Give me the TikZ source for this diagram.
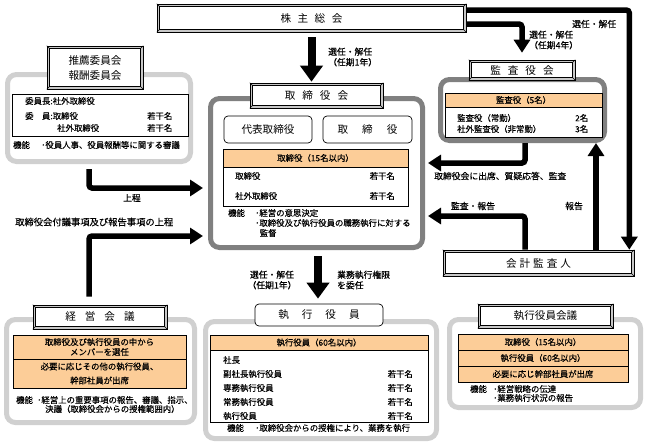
\documentclass[tikz,border=0pt]{standalone}
\usepackage{fontspec}
\setmainfont{Noto Sans CJK JP}[FakeBold=0.35]
\newfontfamily\jpreg{Noto Sans CJK JP}
\usetikzlibrary{arrows.meta,fit,calc}
\definecolor{orng}{RGB}{252,205,152}
\definecolor{dgray}{RGB}{128,128,128}
\definecolor{lgray}{RGB}{208,208,208}
\definecolor{bevgray}{RGB}{200,200,200}
\tikzset{
  txt/.style={font=\fontsize{8.4}{10}\selectfont, inner sep=0pt},
  lbl/.style={font=\fontsize{8.8}{10.5}\selectfont, inner sep=0pt},
  ttl/.style={font=\jpreg\fontsize{10.6}{15}\selectfont, inner sep=0pt, align=center},
  gbox/.style={draw=#1, line width=5pt, rounded corners=9pt, fill=white, inner sep=0pt},
  bevouter/.style={draw, line width=0.6pt, fill=bevgray, inner sep=0pt},
  bevline/.style={draw, line width=0.6pt, fill=white},
  bevthin/.style={line width=0.4pt},
  tbl/.style={draw, line width=0.6pt, fill=white, inner sep=0pt},
  hdr/.style={draw, line width=0.6pt, fill=orng, inner sep=0pt},
  rbox/.style={draw, line width=0.7pt, rounded corners=4pt, fill=white, inner sep=0pt},
  bigarr/.style={line width=8pt, -{Triangle[width=22pt,length=16pt]}},
  medarr/.style={line width=5.5pt, rounded corners=3pt, -{Triangle[width=16pt,length=13pt]}},
}
\newcommand{\bevbox}[4]{%
  \node[bevouter, fit={#2 #3}] (#1) {};
  \draw[bevline] ([shift={(2.6pt,-2.6pt)}]#1.north west) rectangle ([shift={(-2.6pt,2.6pt)}]#1.south east);
  \draw[bevthin] (#1.north west) -- ++(2.6pt,-2.6pt) (#1.north east) -- ++(-2.6pt,-2.6pt)
     (#1.south west) -- ++(2.6pt,2.6pt) (#1.south east) -- ++(-2.6pt,2.6pt);
  \node[ttl] (#1-t) at (#1.center) {#4};}
\newcommand{\gbx}[6]{\node[gbox=#6, fit={(#2,#3)(#4,#5)}] (#1) {};}
\begin{document}
\begin{tikzpicture}[x=1pt,y=-1pt]
\useasboundingbox[fill=white] (0,0) rectangle (648,447);

% 株主総会
\bevbox{kabu}{(157,4)}{(466,32)}{株\hspace{6.5pt}主\hspace{6.5pt}総\hspace{6.5pt}会}

% 推薦委員会
\gbx{suig}{7.5}{74.5}{190.5}{161.5}{lgray}
\bevbox{suitt}{(47,46)}{(143,89)}{推薦委員会\\報酬委員会}
\node[tbl, fit={(12,94)(188,136)}] (suitbl) {};
\node[txt, anchor=west] (s1) at (25,101) {委員長:社外取締役};
\node[txt, anchor=west] (s2) at (25,116) {委　員:取締役};
\node[txt, anchor=west] (s3) at (147,116) {若干名};
\node[txt, anchor=west] (s4) at (57,128) {社外取締役};
\node[txt, anchor=west] (s5) at (147,128) {若干名};
\node[txt, anchor=west] (s6) at (13,145) {機能};
\node[txt, anchor=west] (s7) at (41,145) {･役員人事、役員報酬等に関する審議};

% 取締役会
\gbx{tori}{210.5}{98.5}{422.5}{247.5}{dgray}
\bevbox{toritt}{(250,83)}{(383,108)}{取\hspace{7pt}締\hspace{7pt}役\hspace{7pt}会}
\node[rbox, fit={(224,116)(312,143)}] (daihyo) {};
\node[ttl] (daihyo-t) at (daihyo.center) {代表取締役};
\node[rbox, fit={(323,116)(412,143)}] (torishi) {};
\node[ttl] (torishi-t) at (torishi.center) {取\hspace{14pt}締\hspace{14pt}役};
\node[tbl, fit={(223,149)(408,206)}] (toritbl) {};
\node[hdr, fit={(223,149)(408,167)}] (torihdr) {};
\node[txt] (t0) at (torihdr.center) {取締役（15名以内）};
\node[txt, anchor=west] (t1) at (235,176) {取締役};
\node[txt, anchor=east] (t2) at (395,176) {若干名};
\node[txt, anchor=west] (t3) at (235,196) {社外取締役};
\node[txt, anchor=east] (t4) at (395,196) {若干名};
\node[txt, anchor=west] (t5) at (228,213) {機能};
\node[txt, anchor=west] (t6) at (255,213) {･経営の意思決定};
\node[txt, anchor=west] (t7) at (255,223) {･取締役及び執行役員の職務執行に対する};
\node[txt, anchor=west] (t8) at (259.5,233) {監督};

% 監査役会
\gbx{kansa}{440.5}{79.5}{604.5}{140.5}{dgray}
\bevbox{kansatt}{(469,60)}{(575,80)}{監\hspace{7pt}査\hspace{7pt}役\hspace{7pt}会}
\node[tbl, fit={(445,93)(602,137)}] (kansatbl) {};
\node[hdr, fit={(445,93)(602,107)}] (kansahdr) {};
\node[txt] (k0) at (kansahdr.center) {監査役（5名）};
\node[txt, anchor=west] (k1) at (457,118) {監査役（常勤）};
\node[txt, anchor=west] (k2) at (575,118) {2名};
\node[txt, anchor=west] (k3) at (457,129) {社外監査役（非常勤）};
\node[txt, anchor=west] (k4) at (575,129) {3名};

% 会計監査人
\bevbox{kaikei}{(443,250)}{(634,276)}{会\hspace{3pt}計\hspace{3pt}監\hspace{3pt}査\hspace{3pt}人}

% 経営会議
\gbx{keiei}{6.5}{319.5}{194.5}{422.5}{lgray}
\bevbox{keieitt}{(33,305)}{(167,329)}{経\hspace{9pt}営\hspace{9pt}会\hspace{9pt}議}
\node[hdr, fit={(13,335)(186,359)}] (keieir1) {};
\node[hdr, fit={(13,359)(186,388)}] (keieir2) {};
\node[txt, align=center] (e1) at (keieir1.center) {取締役及び執行役員の中から\\メンバーを選任};
\node[txt, align=center, font=\fontsize{8.4}{14}\selectfont] (e2) at (keieir2.center) {必要に応じその他の執行役員、\\幹部社員が出席};
\node[txt, anchor=west] (e3) at (16,400) {機能};
\node[txt, anchor=west] (e4) at (37,400) {･経営上の重要事項の報告、審議、指示、};
\node[txt, anchor=west] (e5) at (45,409) {決議（取締役会からの授権範囲内）};

% 執行役員
\gbx{shik}{205.5}{321.5}{436.5}{438.5}{lgray}
\node[rbox, fit={(255,304)(383,326)}] (shiktt) {};
\node[ttl] (shiktt-t) at (shiktt.center) {執\hspace{13pt}行\hspace{13pt}役\hspace{13pt}員};
\node[tbl, fit={(210,335)(428,422)}] (shiktbl) {};
\node[hdr, fit={(210,335)(428,350)}] (shikhdr) {};
\node[txt] (h0) at (shikhdr.center) {執行役員（60名以内）};
\node[txt, anchor=west] (h1) at (223,360) {社長};
\node[txt, anchor=west] (h2) at (223,374) {副社長執行役員};
\node[txt, anchor=east] (h3) at (413,374) {若干名};
\node[txt, anchor=west] (h4) at (223,388) {専務執行役員};
\node[txt, anchor=east] (h5) at (413,388) {若干名};
\node[txt, anchor=west] (h6) at (223,402) {常務執行役員};
\node[txt, anchor=east] (h7) at (413,402) {若干名};
\node[txt, anchor=west] (h8) at (223,416) {執行役員};
\node[txt, anchor=east] (h9) at (413,416) {若干名};
\node[txt, anchor=west] (h10) at (227,428) {機能};
\node[txt, anchor=west] (h11) at (255,428) {･取締役会からの授権により、業務を執行};

% 執行役員会議
\gbx{kaigi}{449.5}{319.5}{640.5}{407.5}{lgray}
\bevbox{kaigitt}{(478,304)}{(613,328)}{執行役員会議}
\node[hdr, fit={(458,334)(628,350)}] (kaigir1) {};
\node[hdr, fit={(458,350)(628,366)}] (kaigir2) {};
\node[hdr, fit={(458,366)(628,382)}] (kaigir3) {};
\node[txt] (g1) at (kaigir1.center) {取締役（15名以内）};
\node[txt] (g2) at (kaigir2.center) {執行役員（60名以内）};
\node[txt] (g3) at (kaigir3.center) {必要に応じ幹部社員が出席};
\node[txt, anchor=west] (g4) at (470,389) {機能};
\node[txt, anchor=west] (g5) at (493,389) {･経営戦略の伝達};
\node[txt, anchor=west] (g6) at (493,398) {･業務執行状況の報告};

% labels
\node[lbl, anchor=west, align=left] (l1) at (328,57) {選任・解任\\（任期1年）};
\node[lbl, anchor=west, align=left] (l2) at (529,40) {選任・解任\\（任期4年）};
\node[lbl, anchor=west] (l3) at (572,24) {選任・解任};
\node[lbl, anchor=west] (l4) at (434,176) {取締役会に出席、質疑応答、監査};
\node[lbl] (l5) at (473,206) {監査・報告};
\node[lbl] (l6) at (574,206) {報告};
\node[lbl] (l7) at (132,198) {上程};
\node[lbl, anchor=west, font=\fontsize{9.3}{11}\selectfont] (l8) at (15,222) {取締役会付議事項及び報告事項の上程};
\node[lbl, align=center] (l9) at (272,280) {選任・解任\\（任期1年）};
\node[lbl, anchor=west, align=left] (l10) at (337,280) {業務執行権限\\を委任};

% connectors
\draw[bigarr] ([yshift=-5pt]kabu.south) -- ([yshift=1pt]kabu.south |- toritt.north);
\draw[medarr] ([yshift=-6pt]kabu.east) -| ([yshift=7pt]kansatt.north);
\draw[medarr] ([yshift=8pt]kabu.east) -| ([xshift=-5pt]kaikei.north east);
\draw[medarr] ([xshift=2.5pt]kansa.south) |- ([xshift=3pt,yshift=10pt]tori.east);
\draw[medarr] ([xshift=-13.5pt]kaikei.north) |- ([xshift=3pt,yshift=-43pt]tori.east);
\draw[medarr] ([xshift=57.5pt]kaikei.north) -- ([xshift=57.5pt]kaikei.north |- kansa.south);
\draw[bigarr] ([xshift=1.5pt,yshift=-6pt]tori.south) -- ([xshift=1.5pt,yshift=5pt]tori.south |- shiktt.north);
\draw[medarr] ([xshift=-10pt,yshift=-5pt]suig.south) |- ([xshift=-5pt,yshift=-15pt]tori.west);
\draw[medarr] ([xshift=-11pt,yshift=8pt]keieitt.north) |- ([xshift=-5pt,yshift=-63pt]tori.west);
\end{tikzpicture}
\end{document}
